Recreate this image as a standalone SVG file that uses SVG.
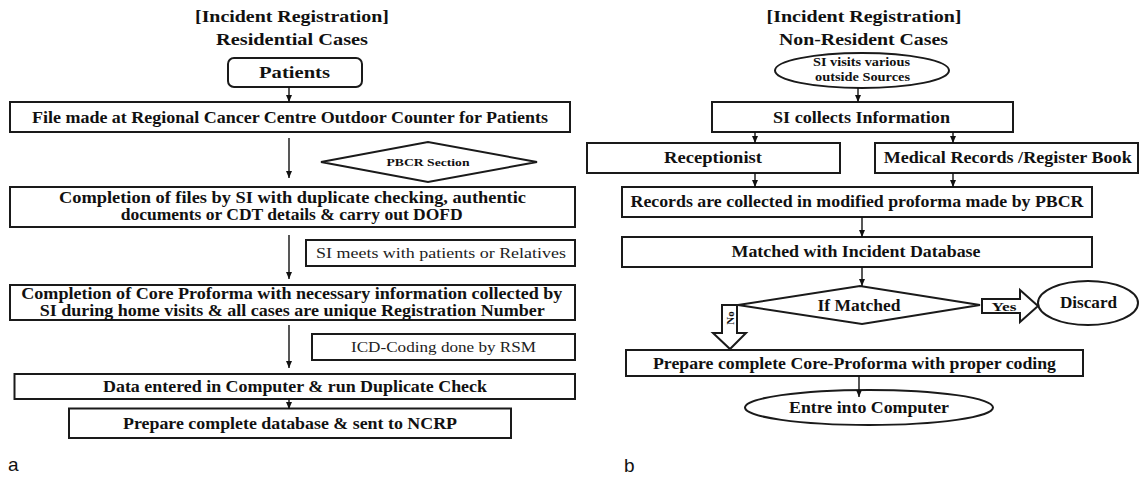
<svg xmlns="http://www.w3.org/2000/svg" width="1140" height="479" viewBox="0 0 1140 479">
<style>
.bx{fill:#fff;stroke:#1a1a1a;stroke-width:2}
.t{font-family:"Liberation Serif",serif;font-weight:bold;font-size:16px;fill:#111;text-anchor:middle}
.ti{font-family:"Liberation Serif",serif;font-weight:bold;font-size:17.5px;fill:#111;text-anchor:middle}
.r{font-family:"Liberation Serif",serif;font-size:15.5px;fill:#222;text-anchor:middle}
.lb{font-family:"Liberation Sans",Arial,sans-serif;font-size:19px;fill:#111}
.c{stroke:#111;stroke-width:1.4;fill:none;marker-end:url(#ah)}
</style>
<defs>
<marker id="ah" markerWidth="8" markerHeight="10" refX="7" refY="4" orient="auto" markerUnits="userSpaceOnUse">
<path d="M0,1 L7,4 L0,7 Z" fill="#111"/>
</marker>
</defs>
<rect width="1140" height="479" fill="#fff"/>

<!-- Left panel titles -->
<g id="title-left">
<text class="ti" x="292" y="22" textLength="194" lengthAdjust="spacingAndGlyphs">[Incident Registration]</text>
<text class="ti" x="292" y="45" textLength="152" lengthAdjust="spacingAndGlyphs">Residential Cases</text>
</g>
<g id="patients">
<rect class="bx" x="228" y="58" width="134" height="29" rx="6"/>
<text class="ti" x="294.5" y="78" textLength="71" lengthAdjust="spacingAndGlyphs">Patients</text>
</g>
<g id="file-made">
<rect class="bx" x="10" y="102" width="560" height="30"/>
<text class="t" x="290" y="122.5" textLength="516" lengthAdjust="spacingAndGlyphs">File made at Regional Cancer Centre Outdoor Counter for Patients</text>
</g>
<g id="pbcr-section">
<polygon class="bx" points="321,162 428,142 537,162 428,182"/>
<text class="t" x="428" y="166" style="font-size:11px" textLength="83" lengthAdjust="spacingAndGlyphs">PBCR Section</text>
</g>
<g id="completion-files">
<rect class="bx" x="10" y="187" width="565" height="40"/>
<text class="t" x="292.5" y="202.5" textLength="467" lengthAdjust="spacingAndGlyphs">Completion of files by SI with duplicate checking, authentic</text>
<text class="t" x="291.7" y="220" textLength="342" lengthAdjust="spacingAndGlyphs">documents or CDT details &amp; carry out DOFD</text>
</g>
<g id="si-meets">
<rect class="bx" x="306" y="240" width="269" height="26"/>
<text class="r" x="441" y="258" textLength="250" lengthAdjust="spacingAndGlyphs">SI meets with patients or Relatives</text>
</g>
<g id="completion-core">
<rect class="bx" x="10" y="285" width="565" height="35"/>
<text class="t" x="291.8" y="299" textLength="541" lengthAdjust="spacingAndGlyphs">Completion of Core Proforma with necessary information collected by</text>
<text class="t" x="292.2" y="315.5" textLength="505" lengthAdjust="spacingAndGlyphs">SI during home visits &amp; all cases are unique Registration Number</text>
</g>
<g id="icd-coding">
<rect class="bx" x="312" y="334" width="263" height="26"/>
<text class="r" x="443.5" y="352" textLength="185" lengthAdjust="spacingAndGlyphs">ICD-Coding done by RSM</text>
</g>
<g id="data-entered">
<rect class="bx" x="14.5" y="374" width="560.5" height="25"/>
<text class="t" x="295" y="391.5" textLength="384" lengthAdjust="spacingAndGlyphs">Data entered in Computer &amp; run Duplicate Check</text>
</g>
<g id="prepare-db">
<rect class="bx" x="69" y="408.5" width="442" height="29.5"/>
<text class="t" x="290" y="428.5" textLength="334" lengthAdjust="spacingAndGlyphs">Prepare complete database &amp; sent to NCRP</text>
</g>
<g id="label-a"><text class="lb" x="8" y="471">a</text></g>

<!-- Right panel -->
<g id="title-right">
<text class="ti" x="864" y="22" textLength="195" lengthAdjust="spacingAndGlyphs">[Incident Registration]</text>
<text class="ti" x="863.5" y="45" textLength="169" lengthAdjust="spacingAndGlyphs">Non-Resident Cases</text>
</g>
<g id="si-visits">
<ellipse class="bx" cx="862" cy="70.5" rx="87" ry="17.5"/>
<text class="t" x="861.5" y="66" style="font-size:12px" textLength="97" lengthAdjust="spacingAndGlyphs">SI visits various</text>
<text class="t" x="862.5" y="80.5" style="font-size:12px" textLength="95" lengthAdjust="spacingAndGlyphs">outside Sources</text>
</g>
<g id="si-collects">
<rect class="bx" x="712" y="102" width="301" height="30"/>
<text class="t" x="861.5" y="122.5" textLength="177" lengthAdjust="spacingAndGlyphs">SI collects Information</text>
</g>
<g id="receptionist">
<rect class="bx" x="587" y="143" width="253" height="30"/>
<text class="t" x="713" y="162.5" textLength="98" lengthAdjust="spacingAndGlyphs">Receptionist</text>
</g>
<g id="medical-records">
<rect class="bx" x="875" y="143" width="263" height="30"/>
<text class="t" x="1007.7" y="162.5" textLength="248" lengthAdjust="spacingAndGlyphs">Medical Records /Register Book</text>
</g>
<g id="records-collected">
<rect class="bx" x="622" y="187" width="470" height="30"/>
<text class="t" x="857" y="206.5" textLength="453" lengthAdjust="spacingAndGlyphs">Records are collected in modified proforma made by PBCR</text>
</g>
<g id="matched-db">
<rect class="bx" x="622" y="237" width="470" height="30"/>
<text class="t" x="856" y="256.5" textLength="249" lengthAdjust="spacingAndGlyphs">Matched with Incident Database</text>
</g>
<g id="if-matched">
<polygon class="bx" points="738,305 860,286 980,305 862,324"/>
<text class="t" x="859" y="310.5" textLength="83" lengthAdjust="spacingAndGlyphs">If Matched</text>
</g>
<g id="discard">
<ellipse class="bx" cx="1088" cy="303" rx="50" ry="22"/>
<text class="t" x="1088.5" y="308" textLength="57" lengthAdjust="spacingAndGlyphs">Discard</text>
</g>
<g id="prepare-core">
<rect class="bx" x="626" y="350" width="457" height="26"/>
<text class="t" x="854.5" y="368.5" textLength="403" lengthAdjust="spacingAndGlyphs">Prepare complete Core-Proforma with proper coding</text>
</g>
<g id="entre-computer">
<ellipse class="bx" cx="869" cy="407.5" rx="124" ry="17.5"/>
<text class="t" x="869" y="412.5" textLength="160" lengthAdjust="spacingAndGlyphs">Entre into Computer</text>
</g>
<g id="label-b"><text class="lb" x="624" y="472">b</text></g>

<!-- Connectors -->
<g id="connectors">
<line class="c" x1="289" y1="87" x2="289" y2="102"/>
<line class="c" x1="289" y1="138" x2="289" y2="178"/>
<line class="c" x1="289" y1="235" x2="289" y2="279"/>
<line class="c" x1="289" y1="325" x2="289" y2="368"/>
<line class="c" x1="289" y1="399" x2="289" y2="409"/>
<line class="c" x1="858" y1="88" x2="858" y2="102"/>
<line class="c" x1="755" y1="132" x2="755" y2="143"/>
<line class="c" x1="953" y1="132" x2="953" y2="143"/>
<line class="c" x1="755" y1="173" x2="755" y2="187"/>
<line class="c" x1="953" y1="173" x2="953" y2="187"/>
<line class="c" x1="862" y1="217" x2="862" y2="237"/>
<line class="c" x1="862" y1="267" x2="862" y2="286"/>
<line class="c" x1="859" y1="376" x2="859" y2="397"/>
<g id="yes-arrow">
<polygon class="bx" points="982,299 1020,299 1020,290 1038,306 1020,322 1020,313 982,313"/>
<text class="t" x="1004" y="311" style="font-size:13.5px" textLength="25" lengthAdjust="spacingAndGlyphs">Yes</text>
</g>
<g id="no-arrow">
<polygon class="bx" points="722,305 737,305 737,333 746,333 730,349 713,333 722,333"/>
<text class="t" x="0" y="0" style="font-size:11px" transform="translate(733.5,318) rotate(-90)">No</text>
</g>
</g>
</svg>
